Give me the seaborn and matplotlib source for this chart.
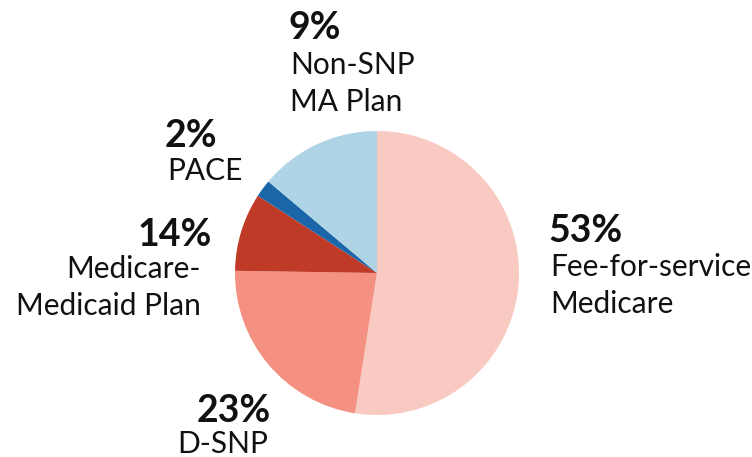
import matplotlib
matplotlib.use('Agg')
import matplotlib.pyplot as plt
import seaborn as sns

sns.set_theme(style='white')
plt.rcParams['font.family'] = ['Lato', 'DejaVu Sans']

# slices, clockwise from 12 o'clock, as drawn
categories = ['Fee-for-service Medicare', 'D-SNP', 'Medicare-Medicaid Plan',
              'PACE', 'Non-SNP MA Plan']
shares = [53, 23, 9, 2, 14]
colors = ['#F9CAC2', '#F49182', '#BF3B28', '#1A66A8', '#AFD4E6']

# labels as printed on the chart
pct_labels = ['53%', '23%', '14%', '2%', '9%']
name_labels = [['Fee-for-service', 'Medicare'], ['D-SNP'],
               ['Medicare-', 'Medicaid Plan'], ['PACE'],
               ['Non-SNP', 'MA Plan']]

W, H = 752, 457
fig = plt.figure(figsize=(W / 100, H / 100), dpi=100)
ax = fig.add_axes([0, 0, 1, 1])

ax.pie(shares, colors=colors, startangle=90, counterclock=False,
       center=(377, H - 273), radius=142,
       wedgeprops=dict(linewidth=0))

ax.set_xlim(0, W)
ax.set_ylim(0, H)
ax.set_aspect('equal')
ax.axis('off')

# label placement: (pct x, pct baseline, name x, first name baseline, align)
spots = [(548, 242, 550, 276, 'left'),
         (271, 422, 268, 453, 'right'),
         (212, 246, 201, 278, 'right'),
         (165, 147, 167, 180, 'left'),
         (289, 39, 290, 74, 'left')]
line_gap = 37

for (xp, yp, xn, yn, ha), pct, names in zip(spots, pct_labels, name_labels):
    ax.text(xp, H - yp, pct, ha=ha, va='baseline', fontsize=27,
            fontweight='bold', fontstyle='normal', color='#111111')
    for i, name in enumerate(names):
        ax.text(xn, H - (yn + i * line_gap), name, ha=ha, va='baseline',
                fontsize=21.5, color='#111111')

fig.savefig('out.png', dpi=100)
